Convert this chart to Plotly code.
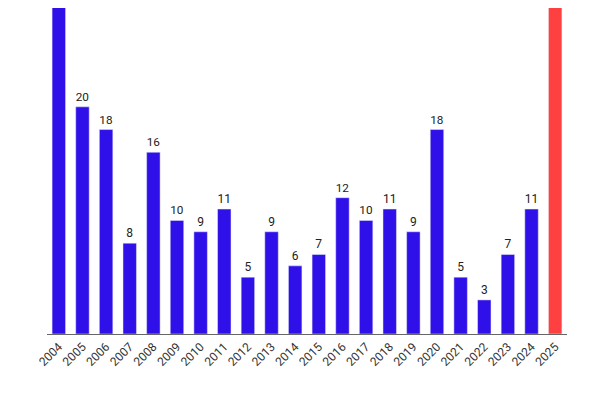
import plotly.graph_objects as go

years = [str(y) for y in range(2004, 2026)]
values = [34, 20, 18, 8, 16, 10, 9, 11, 5, 9, 6, 7, 12, 10, 11, 9, 18, 5, 3, 7, 11, 38]
labels = ["" if y in ("2004", "2025") else str(v) for y, v in zip(years, values)]
colors = ["#ff4040" if y == "2025" else "#3010e8" for y in years]

fig = go.Figure(go.Bar(
    x=years, y=values, text=labels, textposition="outside",
    marker_color=colors, textfont=dict(size=12, color="#222"),
    cliponaxis=True,
))
fig.update_layout(
    width=600, height=400, margin=dict(l=39, r=41, t=0, b=74),
    paper_bgcolor="white", plot_bgcolor="white",
    font=dict(family="Roboto", size=12, color="#333"),
    bargap=0.43, showlegend=False,
    xaxis=dict(tickangle=-45, showline=True, linecolor="#666", ticks="", showgrid=False),
    yaxis=dict(range=[0, 28.7], visible=False),
)
fig.write_html("out.html")
